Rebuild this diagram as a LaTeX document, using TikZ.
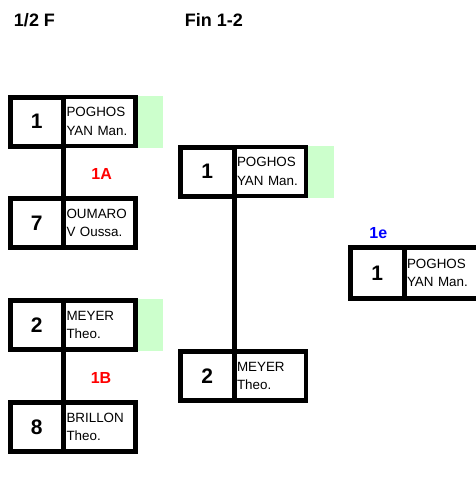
\documentclass[tikz,border=0pt]{standalone}
\usepackage{fontspec}
\setmainfont{Liberation Sans}
\definecolor{lightgreen}{RGB}{204,255,204}
\definecolor{labred}{RGB}{255,0,0}
\definecolor{labblue}{RGB}{0,0,255}
\begin{document}
\begin{tikzpicture}[x=1pt,y=-1pt,
  numbox/.style={draw, line width=5pt, outer sep=0pt, minimum width=53.5pt, minimum height=49pt, inner sep=0pt, anchor=north west, font=\bfseries\fontsize{21}{21}\selectfont},
  namebox/.style={draw, line width=4.3pt, outer sep=0pt, minimum height=49pt, inner xsep=3pt, inner ysep=0pt, text width=66pt, align=left, anchor=north west, font=\fontsize{13.4}{18.5}\selectfont},
  greenbox/.style={fill=lightgreen, draw=none, outer sep=0pt, minimum width=25.5pt, minimum height=52pt, inner sep=0pt, anchor=west},
  conn/.style={line width=5pt},
  head/.style={font=\bfseries\fontsize{18}{18}\selectfont, anchor=base},
  lab/.style={font=\bfseries\fontsize{16}{16}\selectfont, anchor=base}
]
\useasboundingbox (0,0) rectangle (476,501);

% headers
\node[head] (h1) at (34.5,26) {1/2 F};
\node[head] (h2) at (214,26) {Fin 1-2};

% round 1
\node[numbox] (s1) at (10,97) {1};
\node[namebox] (s1n) at (s1.north east) {POGHOS\\YAN Man.};
\node[greenbox] (g1) at ([xshift=2.15pt]s1n.east) {};

\node[numbox] (s7) at (10,198.5) {7};
\node[namebox] (s7n) at (s7.north east) {OUMARO\\V Oussa.};

\node[numbox] (s2) at (10,300.5) {2};
\node[namebox] (s2n) at (s2.north east) {MEYER\\Theo.};
\node[greenbox] (g2) at ([xshift=2.15pt]s2n.east) {};

\node[numbox] (s8) at (10,402.5) {8};
\node[namebox] (s8n) at (s8.north east) {BRILLON\\Theo.};

\draw[conn] (s1.south east) -- (s7.north east);
\draw[conn] (s2.south east) -- (s8.north east);

\node[lab, text=labred] (l1a) at (101.7,179) {1A};
\node[lab, text=labred] (l1b) at (101,383.3) {1B};

% final
\node[numbox] (f1) at (180.5,147) {1};
\node[namebox] (f1n) at (f1.north east) {POGHOS\\YAN Man.};
\node[greenbox] (g3) at ([xshift=2.15pt]f1n.east) {};

\node[numbox] (f2) at (180.5,351.5) {2};
\node[namebox] (f2n) at (f2.north east) {MEYER\\Theo.};

\draw[conn] (f1.south east) -- (f2.north east);

% winner
\node[lab, text=labblue] (l1e) at (378.3,238.3) {1e};
\node[numbox, minimum height=51pt] (w1) at (350.5,247.5) {1};
\node[namebox, minimum height=51pt, text width=80pt] (w1n) at (w1.north east) {POGHOS\\YAN Man.};
\end{tikzpicture}
\end{document}
